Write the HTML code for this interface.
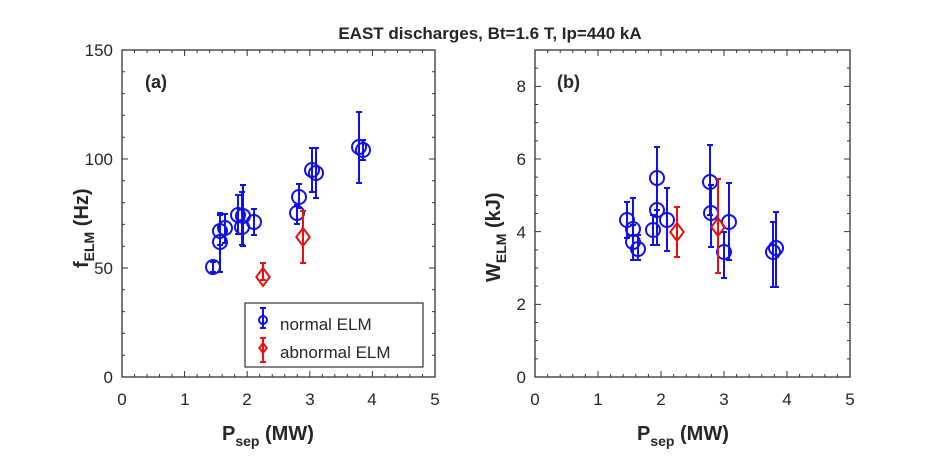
<!DOCTYPE html><html><head><style>body{margin:0;background:#fff}svg{display:block}text{font-family:"Liberation Sans",sans-serif;fill:#262626}</style></head><body>
<svg width="939" height="456" xmlns="http://www.w3.org/2000/svg">
<text x="490" y="39" font-size="17" font-weight="bold" text-anchor="middle" fill="#111">EAST discharges, Bt=1.6 T, Ip=440 kA</text>
<rect x="122" y="50" width="313" height="327" fill="none" stroke="#333" stroke-width="1.3"/>
<rect x="535" y="50" width="315" height="327" fill="none" stroke="#333" stroke-width="1.3"/>
<g stroke="#333" stroke-width="1"><path id="ta" d=""/></g>
<g font-size="17" text-anchor="end">
<text x="113" y="383">0</text><text x="113" y="274">50</text><text x="113" y="165">100</text><text x="113" y="56">150</text>
<text x="526" y="383">0</text><text x="526" y="310">2</text><text x="526" y="238">4</text><text x="526" y="165">6</text><text x="526" y="92">8</text>
</g>
<g font-size="17" text-anchor="middle">
<text x="122" y="405">0</text><text x="185" y="405">1</text><text x="247" y="405">2</text><text x="310" y="405">3</text><text x="372" y="405">4</text><text x="435" y="405">5</text>
<text x="535" y="405">0</text><text x="598" y="405">1</text><text x="661" y="405">2</text><text x="724" y="405">3</text><text x="787" y="405">4</text><text x="850" y="405">5</text>
</g>
<g font-size="20" font-weight="bold">
<text x="222" y="440">P<tspan font-size="14" dy="6">sep</tspan><tspan dy="-6"> (MW)</tspan></text>
<text x="637" y="440">P<tspan font-size="14" dy="6">sep</tspan><tspan dy="-6"> (MW)</tspan></text>
<text transform="translate(88,268) rotate(-90)">f<tspan font-size="14" dy="6">ELM</tspan><tspan dy="-6"> (Hz)</tspan></text>
<text transform="translate(500,282) rotate(-90)">W<tspan font-size="14" dy="6">ELM</tspan><tspan dy="-6"> (kJ)</tspan></text>
<text x="145" y="88" fill="#111" font-size="18">(a)</text>
<text x="557" y="88" fill="#111" font-size="18">(b)</text>
</g>
<rect x="245" y="303" width="178" height="64" fill="#fff" stroke="#333" stroke-width="1.2"/>
<text x="280" y="330" font-size="17">normal ELM</text>
<text x="280" y="358" font-size="17">abnormal ELM</text>
<g id="pts" fill="none" stroke-width="2"></g>
</svg>
<script>
var s='';
function L(x1,y1,x2,y2){s+='M'+x1+' '+y1+'L'+x2+' '+y2;}
[[122,435],[535,850]].forEach(function(a){var w=(a[1]-a[0])/5;for(var i=0;i<=25;i++){var x=a[0]+i*w/5,l=i%5?3:6;L(x,377,x,377-l);L(x,50,x,50+l);}});
for(var i=0;i<=15;i++){var y=377-i*327/15,l=i%5?3:6;L(122,y,122+l,y);L(435,y,435-l,y);}
for(var i=0;i<=18;i++){var y=377-i*327/18,l=i%4?3:6;L(535,y,535+l,y);L(850,y,850-l,y);}
document.getElementById('ta').setAttribute('d',s);
var NS='http://www.w3.org/2000/svg',G=document.getElementById('pts');
function E(t,a){var e=document.createElementNS(NS,t);for(var k in a)e.setAttribute(k,a[k]);G.appendChild(e);}
var b=[[213,267,262,272],[220,242,213,272],[220,231,215,245],[225,228,214,243],[238,215,195,234],[242,227,192,245],[243,216,185,246],[254,222,209,235],[297,213,205,224],[299,197,184,208],[312,170,148,192],[316,173,148,198],[359,147,112,183],[363,150,140,160],
[627,220,202,238],[633,229,198,260],[633,242,225,260],[638,249,235,260],[653,230,215,245],[657,210,147,245],[657,178,147,210],[667,220,188,251],[710,182,145,215],[711,213,185,247],[724,252,232,278],[729,222,183,260],[773,252,222,287],[776,248,212,287],[263,320,308,328]];
var r=[[263,277,263,280],[303,237,211,263],[677,232,207,257],[718,227,179,273],[263,348,338,362]];
function eb(p,c){E('path',{stroke:c,d:'M'+p[0]+' '+p[2]+'V'+p[3]+'M'+(p[0]-3)+' '+p[2]+'h6M'+(p[0]-3)+' '+p[3]+'h6'});}
b.forEach(function(p){eb(p,'#1010e8');E('circle',{stroke:'#1010e8',cx:p[0],cy:p[1],r:p[1]==320?4:7});});
r.forEach(function(p){eb(p,'#e81010');var d=p[1]==348?5:9;E('path',{stroke:'#e81010',d:'M'+p[0]+' '+(p[1]-d)+'l'+(d*0.75)+' '+d+'l'+(-d*0.75)+' '+d+'l'+(-d*0.75)+' '+(-d)+'z'});});
</script>
</body></html>
